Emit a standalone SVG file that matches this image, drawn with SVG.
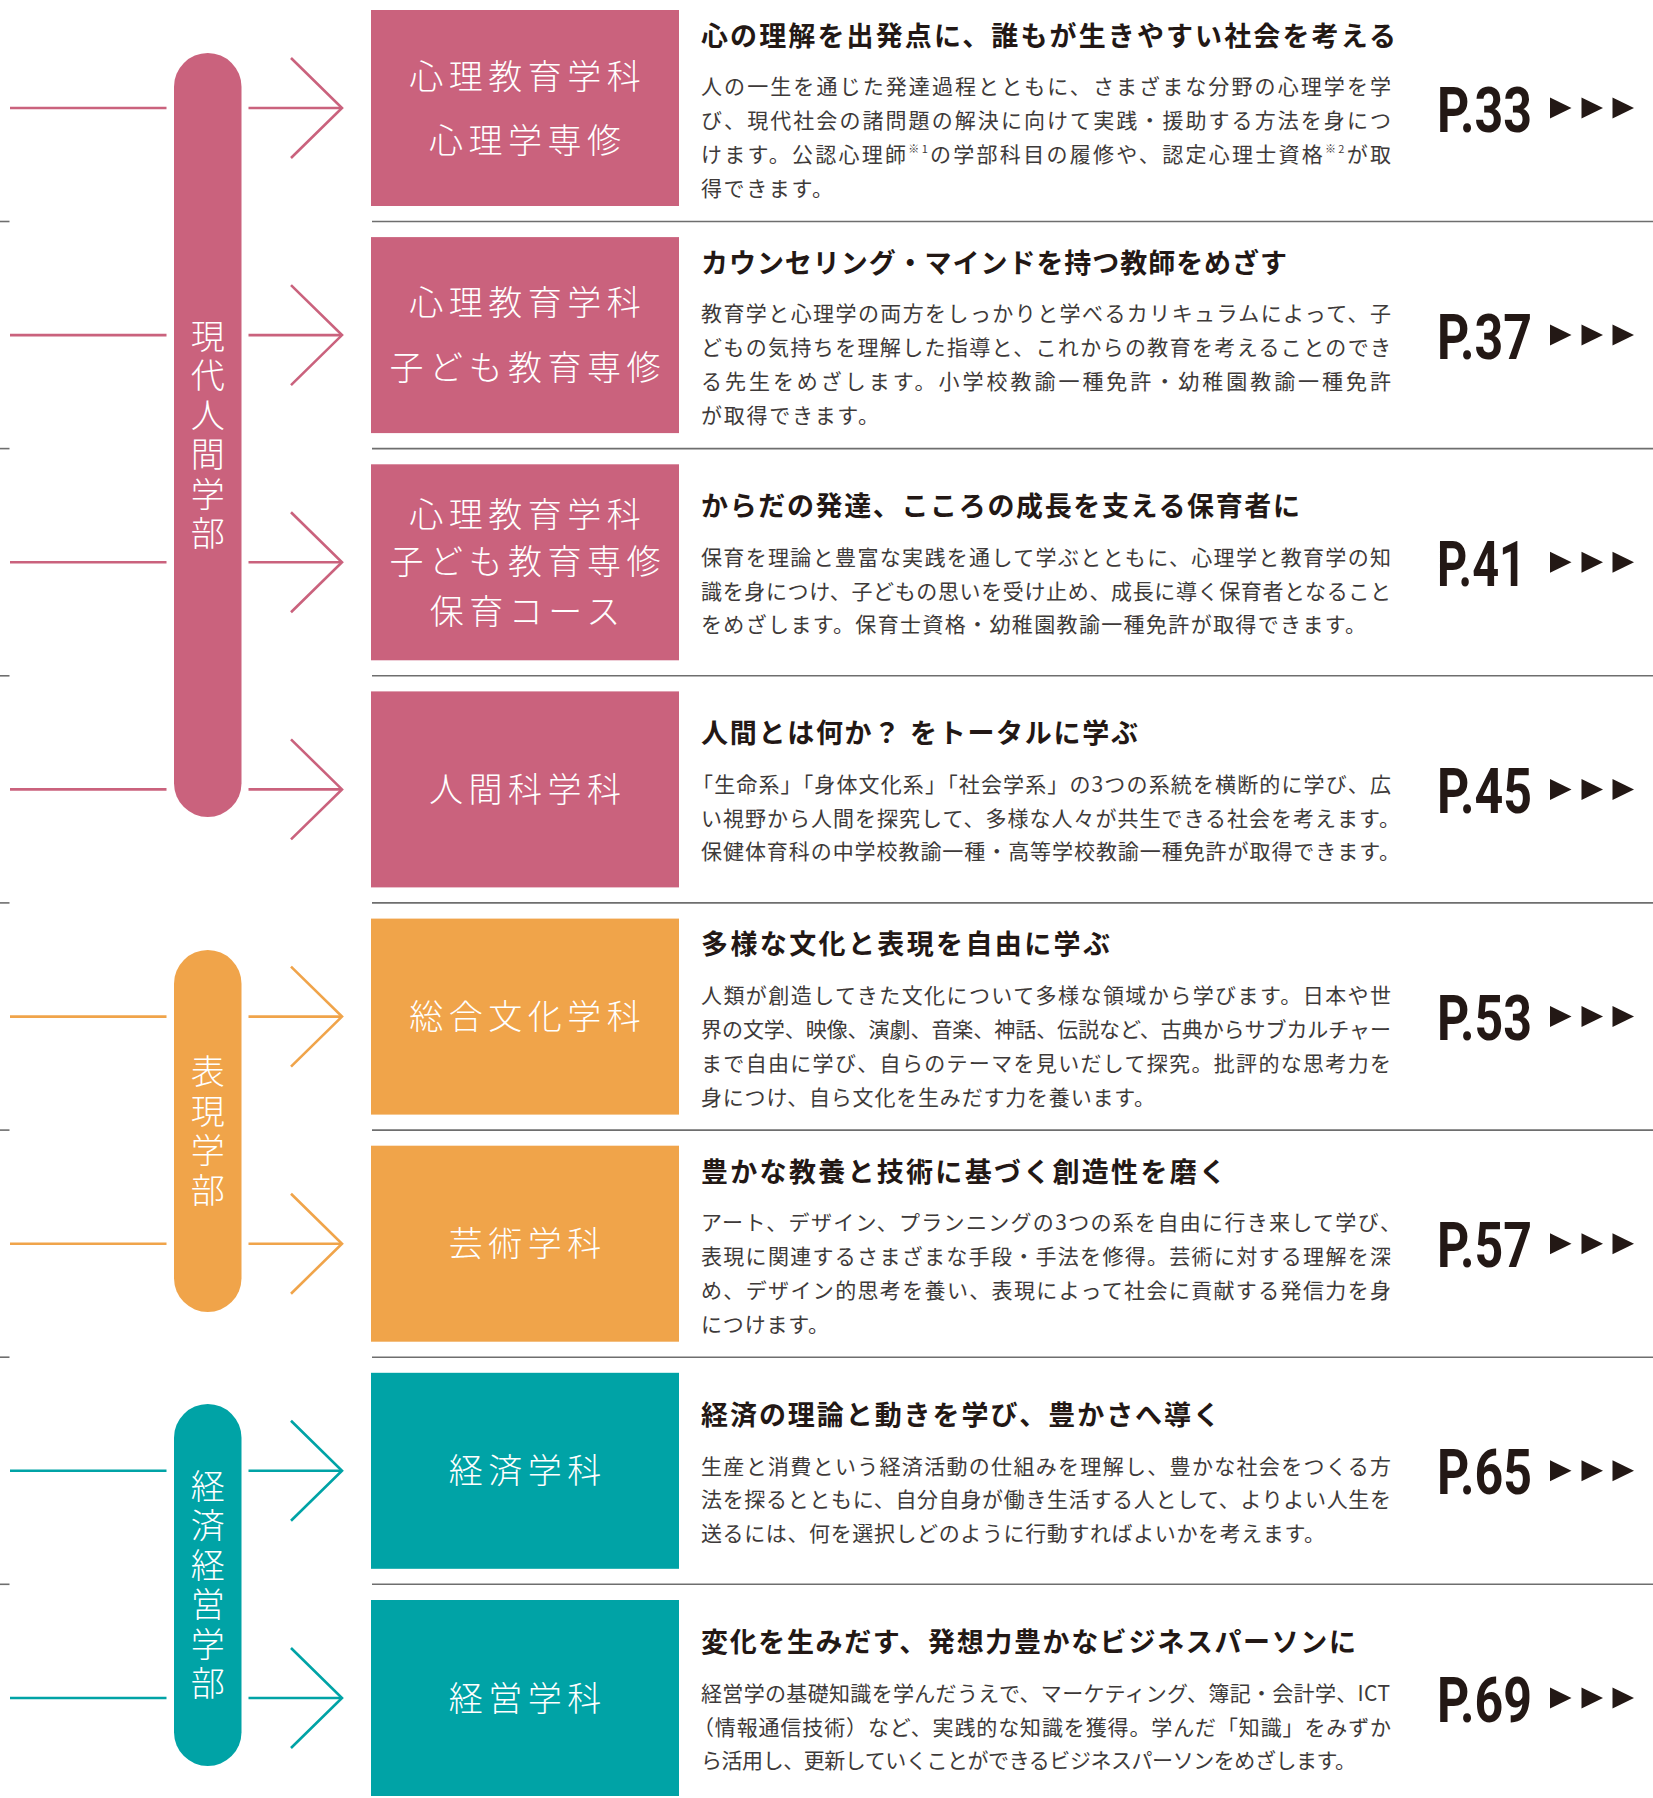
<svg xmlns="http://www.w3.org/2000/svg" width="1653" height="1798" viewBox="0 0 1653 1798">
<style>
  .sep{stroke:#6e6e6e;stroke-width:1.6;fill:none}
  .ln{fill:none;stroke-width:2.6;stroke-linecap:butt;stroke-linejoin:miter}
  .pk{stroke:#CA627D}.or{stroke:#F0A44A}.tl{stroke:#00A3A6}
  .fpk{fill:#CA627D}.for{fill:#F0A44A}.ftl{fill:#00A3A6}
  .bt{font-family:"Noto Sans CJK JP","Noto Sans",sans-serif;font-size:34px;font-weight:300;fill:#fff;letter-spacing:5.5px;text-anchor:middle}
  .vt{font-family:"Noto Sans CJK JP","Noto Sans",sans-serif;font-size:34px;font-weight:300;fill:#fff;letter-spacing:5.5px;writing-mode:vertical-rl;text-anchor:middle}
  .ttl{font-family:"Noto Sans CJK JP","Noto Sans",sans-serif;font-size:27px;font-weight:700;fill:#231815}
  .bd{font-family:"Noto Sans CJK JP","Noto Sans",sans-serif;font-size:21px;font-weight:400;fill:#3e3a39}
  .sup{font-size:11px}
  .pg{font-family:Roboto,"Liberation Sans",sans-serif;font-size:63px;font-weight:700;fill:#231815}
  .tri{fill:#231815}
</style>
<defs>
  <g id="tris"><polygon points="0,-10.5 21.5,0 0,10.5"/><polygon points="31.5,-10.5 53,0 31.5,10.5"/><polygon points="62.5,-10.5 84,0 62.5,10.5"/></g>
  <polyline id="chev" points="-51,-50 0,0 -51,50"/>
</defs>

<g id="separators">
  <g class="sep">
    <line x1="372" y1="221.5" x2="1653" y2="221.5"/><line x1="0" y1="221.5" x2="9.5" y2="221.5"/>
    <line x1="372" y1="448.6" x2="1653" y2="448.6"/><line x1="0" y1="448.6" x2="9.5" y2="448.6"/>
    <line x1="372" y1="675.8" x2="1653" y2="675.8"/><line x1="0" y1="675.8" x2="9.5" y2="675.8"/>
    <line x1="372" y1="902.9" x2="1653" y2="902.9"/><line x1="0" y1="902.9" x2="9.5" y2="902.9"/>
    <line x1="372" y1="1130.1" x2="1653" y2="1130.1"/><line x1="0" y1="1130.1" x2="9.5" y2="1130.1"/>
    <line x1="372" y1="1357.2" x2="1653" y2="1357.2"/><line x1="0" y1="1357.2" x2="9.5" y2="1357.2"/>
    <line x1="372" y1="1584.3" x2="1653" y2="1584.3"/><line x1="0" y1="1584.3" x2="9.5" y2="1584.3"/>
  </g>
</g>

<g id="connectors">
  <g class="ln pk">
    <line x1="10" y1="108" x2="166.5" y2="108"/><line x1="248.5" y1="108" x2="342" y2="108"/><use href="#chev" x="342" y="108"/>
    <line x1="10" y1="335.1" x2="166.5" y2="335.1"/><line x1="248.5" y1="335.1" x2="342" y2="335.1"/><use href="#chev" x="342" y="335.1"/>
    <line x1="10" y1="562.3" x2="166.5" y2="562.3"/><line x1="248.5" y1="562.3" x2="342" y2="562.3"/><use href="#chev" x="342" y="562.3"/>
    <line x1="10" y1="789.4" x2="166.5" y2="789.4"/><line x1="248.5" y1="789.4" x2="342" y2="789.4"/><use href="#chev" x="342" y="789.4"/>
  </g>
  <g class="ln or">
    <line x1="10" y1="1016.6" x2="166.5" y2="1016.6"/><line x1="248.5" y1="1016.6" x2="342" y2="1016.6"/><use href="#chev" x="342" y="1016.6"/>
    <line x1="10" y1="1243.7" x2="166.5" y2="1243.7"/><line x1="248.5" y1="1243.7" x2="342" y2="1243.7"/><use href="#chev" x="342" y="1243.7"/>
  </g>
  <g class="ln tl">
    <line x1="10" y1="1470.8" x2="166.5" y2="1470.8"/><line x1="248.5" y1="1470.8" x2="342" y2="1470.8"/><use href="#chev" x="342" y="1470.8"/>
    <line x1="10" y1="1698" x2="166.5" y2="1698"/><line x1="248.5" y1="1698" x2="342" y2="1698"/><use href="#chev" x="342" y="1698"/>
  </g>
</g>

<g id="faculty-gendai">
  <rect class="fpk" x="174" y="53" width="67.5" height="764" rx="33.75"/>
  <text class="vt" x="207.8" y="437.5">現代人間学部</text>
</g>
<g id="faculty-hyogen">
  <rect class="for" x="174" y="950" width="67.5" height="362" rx="33.75"/>
  <text class="vt" x="207.8" y="1133.5">表現学部</text>
</g>
<g id="faculty-keizai">
  <rect class="ftl" x="174" y="1404" width="67.5" height="362" rx="33.75"/>
  <text class="vt" x="207.8" y="1587.5">経済経営学部</text>
</g>

<g id="dept-shinri">
  <rect class="fpk" x="371" y="10" width="308" height="196"/>
  <text class="bt" x="527.75" y="88.5">心理教育学科</text>
  <text class="bt" x="527.75" y="152.5">心理学専修</text>
  <text class="ttl" x="701" y="45.8" textLength="695">心の理解を出発点に、誰もが生きやすい社会を考える</text>
  <text class="bd" x="701" y="94" textLength="690">人の一生を通じた発達過程とともに、さまざまな分野の心理学を学</text>
  <text class="bd" x="701" y="128" textLength="690">び、現代社会の諸問題の解決に向けて実践・援助する方法を身につ</text>
  <text class="bd" x="701" y="162" textLength="690">けます。公認心理師<tspan class="sup" dy="-9">※1</tspan><tspan dy="9">の学部科目の履修や、認定心理士資格</tspan><tspan class="sup" dy="-9">※2</tspan><tspan dy="9">が取</tspan></text>
  <text class="bd" x="701" y="196" textLength="132">得できます。</text>
  <text class="pg" x="1437" y="131.5" textLength="95" lengthAdjust="spacingAndGlyphs">P.33</text>
  <use class="tri" href="#tris" x="1550" y="108"/>
</g>

<g id="dept-kodomo">
  <rect class="fpk" x="371" y="237.1" width="308" height="196"/>
  <text class="bt" x="527.75" y="315">心理教育学科</text>
  <text class="bt" x="527.75" y="380">子ども教育専修</text>
  <text class="ttl" x="701" y="272.9" textLength="586">カウンセリング・マインドを持つ教師をめざす</text>
  <text class="bd" x="701" y="321.1" textLength="690">教育学と心理学の両方をしっかりと学べるカリキュラムによって、子</text>
  <text class="bd" x="701" y="355.1" textLength="690">どもの気持ちを理解した指導と、これからの教育を考えることのでき</text>
  <text class="bd" x="701" y="389.1" textLength="690">る先生をめざします。小学校教諭一種免許・幼稚園教諭一種免許</text>
  <text class="bd" x="701" y="423.1" textLength="178">が取得できます。</text>
  <text class="pg" x="1437" y="358.6" textLength="95" lengthAdjust="spacingAndGlyphs">P.37</text>
  <use class="tri" href="#tris" x="1550" y="335.1"/>
</g>

<g id="dept-hoiku">
  <rect class="fpk" x="371" y="464.3" width="308" height="196"/>
  <text class="bt" x="527.75" y="526.5">心理教育学科</text>
  <text class="bt" x="527.75" y="574.2">子ども教育専修</text>
  <text class="bt" x="527.75" y="623.5">保育コース</text>
  <text class="ttl" x="701" y="516.2" textLength="599">からだの発達、こころの成長を支える保育者に</text>
  <text class="bd" x="701" y="565.3" textLength="690">保育を理論と豊富な実践を通して学ぶとともに、心理学と教育学の知</text>
  <text class="bd" x="701" y="598.8" textLength="690">識を身につけ、子どもの思いを受け止め、成長に導く保育者となること</text>
  <text class="bd" x="701" y="632.3" textLength="665">をめざします。保育士資格・幼稚園教諭一種免許が取得できます。</text>
  <text class="pg" x="1437" y="585.8" textLength="89" lengthAdjust="spacingAndGlyphs">P.41</text>
  <use class="tri" href="#tris" x="1550" y="562.3"/>
</g>

<g id="dept-ningen">
  <rect class="fpk" x="371" y="691.4" width="308" height="196"/>
  <text class="bt" x="527.75" y="801.9">人間科学科</text>
  <text class="ttl" x="701" y="743.3" textLength="437">人間とは何か？ をトータルに学ぶ</text>
  <text class="bd" x="692" y="792.4" textLength="699">「生命系」「身体文化系」「社会学系」の3つの系統を横断的に学び、広</text>
  <text class="bd" x="701" y="825.9" textLength="699">い視野から人間を探究して、多様な人々が共生できる社会を考えます。</text>
  <text class="bd" x="701" y="859.4" textLength="699">保健体育科の中学校教諭一種・高等学校教諭一種免許が取得できます。</text>
  <text class="pg" x="1437" y="812.9" textLength="95" lengthAdjust="spacingAndGlyphs">P.45</text>
  <use class="tri" href="#tris" x="1550" y="789.4"/>
</g>

<g id="dept-sogo">
  <rect class="for" x="371" y="918.6" width="308" height="196"/>
  <text class="bt" x="527.75" y="1029.1">総合文化学科</text>
  <text class="ttl" x="701" y="954.4" textLength="409">多様な文化と表現を自由に学ぶ</text>
  <text class="bd" x="701" y="1002.6" textLength="690">人類が創造してきた文化について多様な領域から学びます。日本や世</text>
  <text class="bd" x="701" y="1036.6" textLength="690">界の文学、映像、演劇、音楽、神話、伝説など、古典からサブカルチャー</text>
  <text class="bd" x="701" y="1070.6" textLength="690">まで自由に学び、自らのテーマを見いだして探究。批評的な思考力を</text>
  <text class="bd" x="701" y="1104.6" textLength="454">身につけ、自ら文化を生みだす力を養います。</text>
  <text class="pg" x="1437" y="1040.1" textLength="95" lengthAdjust="spacingAndGlyphs">P.53</text>
  <use class="tri" href="#tris" x="1550" y="1016.6"/>
</g>

<g id="dept-geijutsu">
  <rect class="for" x="371" y="1145.7" width="308" height="196"/>
  <text class="bt" x="527.75" y="1256.2">芸術学科</text>
  <text class="ttl" x="701" y="1181.5" textLength="525">豊かな教養と技術に基づく創造性を磨く</text>
  <text class="bd" x="701" y="1229.7" textLength="700">アート、デザイン、プランニングの3つの系を自由に行き来して学び、</text>
  <text class="bd" x="701" y="1263.7" textLength="690">表現に関連するさまざまな手段・手法を修得。芸術に対する理解を深</text>
  <text class="bd" x="701" y="1297.7" textLength="690">め、デザイン的思考を養い、表現によって社会に貢献する発信力を身</text>
  <text class="bd" x="701" y="1331.7" textLength="128">につけます。</text>
  <text class="pg" x="1437" y="1267.2" textLength="95" lengthAdjust="spacingAndGlyphs">P.57</text>
  <use class="tri" href="#tris" x="1550" y="1243.7"/>
</g>

<g id="dept-keizai">
  <rect class="ftl" x="371" y="1372.8" width="308" height="196"/>
  <text class="bt" x="527.75" y="1483.3">経済学科</text>
  <text class="ttl" x="701" y="1424.7" textLength="519">経済の理論と動きを学び、豊かさへ導く</text>
  <text class="bd" x="701" y="1473.8" textLength="690">生産と消費という経済活動の仕組みを理解し、豊かな社会をつくる方</text>
  <text class="bd" x="701" y="1507.3" textLength="690">法を探るとともに、自分自身が働き生活する人として、よりよい人生を</text>
  <text class="bd" x="701" y="1540.8" textLength="624">送るには、何を選択しどのように行動すればよいかを考えます。</text>
  <text class="pg" x="1437" y="1494.3" textLength="95" lengthAdjust="spacingAndGlyphs">P.65</text>
  <use class="tri" href="#tris" x="1550" y="1470.8"/>
</g>

<g id="dept-keiei">
  <rect class="ftl" x="371" y="1600" width="308" height="196"/>
  <text class="bt" x="527.75" y="1710.5">経営学科</text>
  <text class="ttl" x="701" y="1651.9" textLength="655">変化を生みだす、発想力豊かなビジネスパーソンに</text>
  <text class="bd" x="701" y="1701" textLength="689">経営学の基礎知識を学んだうえで、マーケティング、簿記・会計学、ICT</text>
  <text class="bd" x="693" y="1734.5" textLength="698">（情報通信技術）など、実践的な知識を獲得。学んだ「知識」をみずか</text>
  <text class="bd" x="701" y="1768" textLength="655">ら活用し、更新していくことができるビジネスパーソンをめざします。</text>
  <text class="pg" x="1437" y="1721.5" textLength="95" lengthAdjust="spacingAndGlyphs">P.69</text>
  <use class="tri" href="#tris" x="1550" y="1698"/>
</g>
</svg>
